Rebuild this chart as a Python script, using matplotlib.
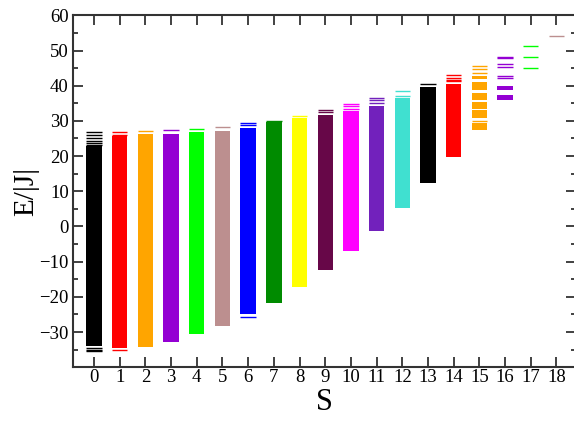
import matplotlib
matplotlib.use("Agg")
import matplotlib.pyplot as plt
from matplotlib.ticker import MultipleLocator

plt.rcParams['font.family'] = ['Liberation Serif', 'DejaVu Serif']

spins = list(range(19))
colors = ['#000000', '#ff0000', '#ffa500', '#9400d3', '#00ff00', '#bc8f8f',
          '#0000ff', '#008b00', '#ffff00', '#670748', '#ff00ff', '#7221bc',
          '#40e0d0', '#000000', '#ff0000', '#ffa500', '#9400d3', '#00ff00',
          '#bc8f8f']

# dense (continuous-looking) ranges of levels per S: (low, high)
bands = [
    [(-34.0, 22.8)],
    [(-34.6, 25.6)],
    [(-34.3, 26.2)],
    [(-32.7, 26.4)],
    [(-30.7, 26.8)],
    [(-28.4, 27.2)],
    [(-25.0, 28.1)],
    [(-21.7, 29.7)],
    [(-17.3, 30.8)],
    [(-12.4, 31.7)],
    [(-6.9, 32.9)],
    [(-1.2, 34.1)],
    [(5.2, 36.4)],
    [(12.4, 39.7)],
    [(19.7, 40.4)],
    [(41.9, 42.8), (38.9, 41.0), (35.9, 38.0), (33.4, 35.4), (30.7, 33.0), (27.4, 29.4)],
    [(38.9, 39.8), (35.9, 37.4)],
    [],
    [],
]

# isolated levels per S
levels = [
    [26.9, 25.9, 25.0, 24.4, 23.7, 23.1, -34.6, -35.0, -35.5],
    [26.9, 25.9, -35.0],
    [27.1],
    [27.4],
    [27.7],
    [28.3],
    [29.4, 28.8, -25.6],
    [30.1],
    [31.5],
    [33.0, 32.4],
    [34.8, 34.2, 33.5],
    [36.5, 35.8, 35.0],
    [38.4, 37.0],
    [40.6],
    [43.1, 42.3, 41.7, 41.2],
    [45.7, 44.8, 43.6, 30.0],
    [48.3, 47.9, 46.1, 45.2, 42.8, 42.2],
    [51.2, 48.1, 45.0],
    [54.2],
]

fig = plt.figure(figsize=(5.74, 4.26), dpi=100)
ax = fig.add_axes([0.127, 0.138, 0.876, 0.826])

hw = 0.3
for s, col, bl, lv in zip(spins, colors, bands, levels):
    for lo, hi in bl:
        ax.bar(s, hi - lo, bottom=lo, width=2 * hw, color=col, linewidth=0)
    if lv:
        ax.hlines(lv, s - hw, s + hw, colors=col, linewidth=1.0)

ax.set_xlim(-0.82, 18.75)
ax.set_ylim(-40, 60)
ax.set_xticks(spins)
ax.yaxis.set_major_locator(MultipleLocator(10))
ax.yaxis.set_minor_locator(MultipleLocator(5))
ax.set_yticks(range(-30, 61, 10))

ax.tick_params(axis='both', which='both', direction='in', top=True, right=True,
               labelsize=13.5, width=1.3, color='#333333')
ax.tick_params(axis='both', which='major', length=7)
ax.tick_params(axis='both', which='minor', length=3.5)
ax.tick_params(axis='x', pad=1)
ax.tick_params(axis='y', pad=3)

for sp in ax.spines.values():
    sp.set_linewidth(1.5)
    sp.set_color('#333333')

ax.set_xlabel('S', fontsize=22, labelpad=2)
ax.set_ylabel('E/|J|', fontsize=21, labelpad=0)

fig.savefig('out.png', dpi=100)
